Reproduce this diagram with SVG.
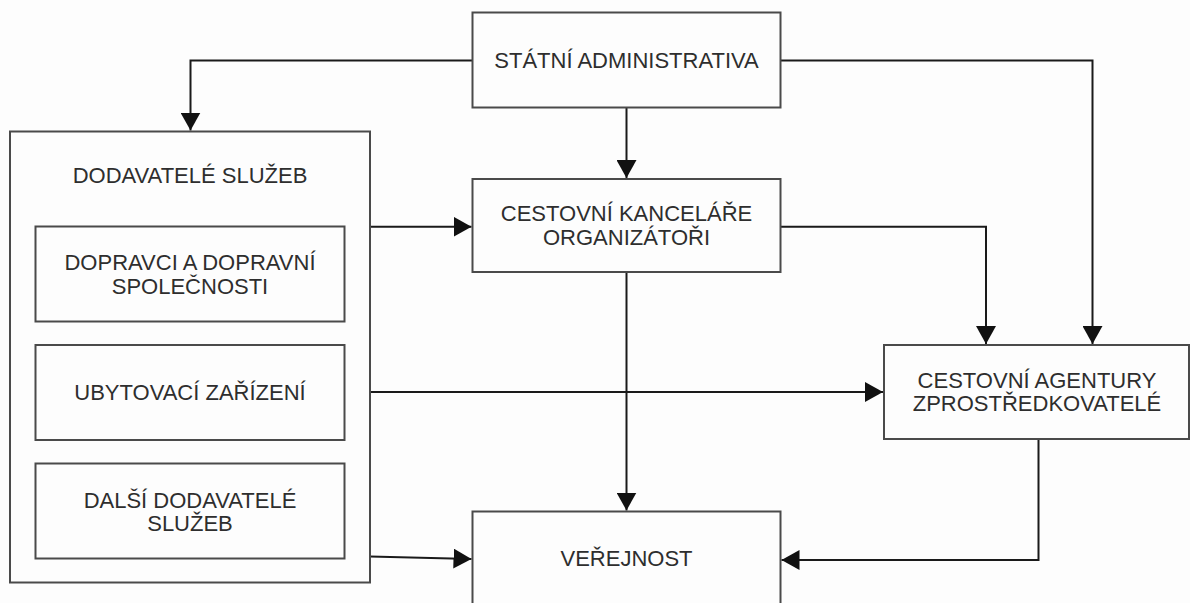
<svg xmlns="http://www.w3.org/2000/svg" width="1190" height="603" viewBox="0 0 1190 603">
<style>
  .box { fill: none; stroke: #4a4a4a; stroke-width: 2; }
  .lbl { font-family: "Liberation Sans", Arial, sans-serif; font-size: 22px; fill: #2e2e2e; text-anchor: middle; }
  .con { fill: none; stroke: #1a1a1a; stroke-width: 2; marker-end: url(#arr); }
</style>
<defs>
  <marker id="arr" markerUnits="userSpaceOnUse" markerWidth="19" markerHeight="20" refX="18" refY="10" orient="auto">
    <path d="M0,0 L18,10 L0,20 Z" fill="#111"/>
  </marker>
</defs>
<rect width="1190" height="603" fill="#fdfdfd"/>

<g id="connectors">
  <path class="con" d="M472.5,60.5 H190.5 V130.5"/>
  <path class="con" d="M626.5,107.5 V178"/>
  <path class="con" d="M780.5,60.5 H1092.5 V344"/>
  <path class="con" d="M370,226.7 H471.5"/>
  <path class="con" d="M780.5,226.7 H986 V344"/>
  <path class="con" d="M370,392 H883"/>
  <path class="con" d="M626.5,272 V510.5"/>
  <path class="con" d="M370,556.5 L471.5,559"/>
  <path class="con" d="M1038.5,439 V560 H781.5"/>
</g>

<g id="statni">
  <rect class="box" x="472.5" y="12.5" width="308" height="95"/>
  <text class="lbl" x="626.5" y="67.5">STÁTNÍ ADMINISTRATIVA</text>
</g>

<g id="dodavatele">
  <rect class="box" x="10" y="131.5" width="360" height="451"/>
  <text class="lbl" x="190" y="182.5">DODAVATELÉ SLUŽEB</text>
</g>

<g id="dopravci">
  <rect class="box" x="35.5" y="226.5" width="309" height="95"/>
  <text class="lbl" x="190" y="269.5">DOPRAVCI A DOPRAVNÍ</text>
  <text class="lbl" x="190" y="293.5">SPOLEČNOSTI</text>
</g>

<g id="ubytovaci">
  <rect class="box" x="35.5" y="345" width="309" height="95"/>
  <text class="lbl" x="190" y="399.5">UBYTOVACÍ ZAŘÍZENÍ</text>
</g>

<g id="dalsi">
  <rect class="box" x="35.5" y="463.5" width="309" height="95"/>
  <text class="lbl" x="190" y="507.5">DALŠÍ DODAVATELÉ</text>
  <text class="lbl" x="190" y="531">SLUŽEB</text>
</g>

<g id="kancelare">
  <rect class="box" x="472.5" y="179" width="308" height="93"/>
  <text class="lbl" x="626.5" y="221">CESTOVNÍ KANCELÁŘE</text>
  <text class="lbl" x="626.5" y="244.5">ORGANIZÁTOŘI</text>
</g>

<g id="agentury">
  <rect class="box" x="884" y="345" width="305" height="94"/>
  <text class="lbl" x="1037" y="387.5">CESTOVNÍ AGENTURY</text>
  <text class="lbl" x="1037" y="410.5">ZPROSTŘEDKOVATELÉ</text>
</g>

<g id="verejnost">
  <rect class="box" x="472.5" y="511.5" width="308" height="100"/>
  <text class="lbl" x="626.5" y="565.5">VEŘEJNOST</text>
</g>
</svg>
